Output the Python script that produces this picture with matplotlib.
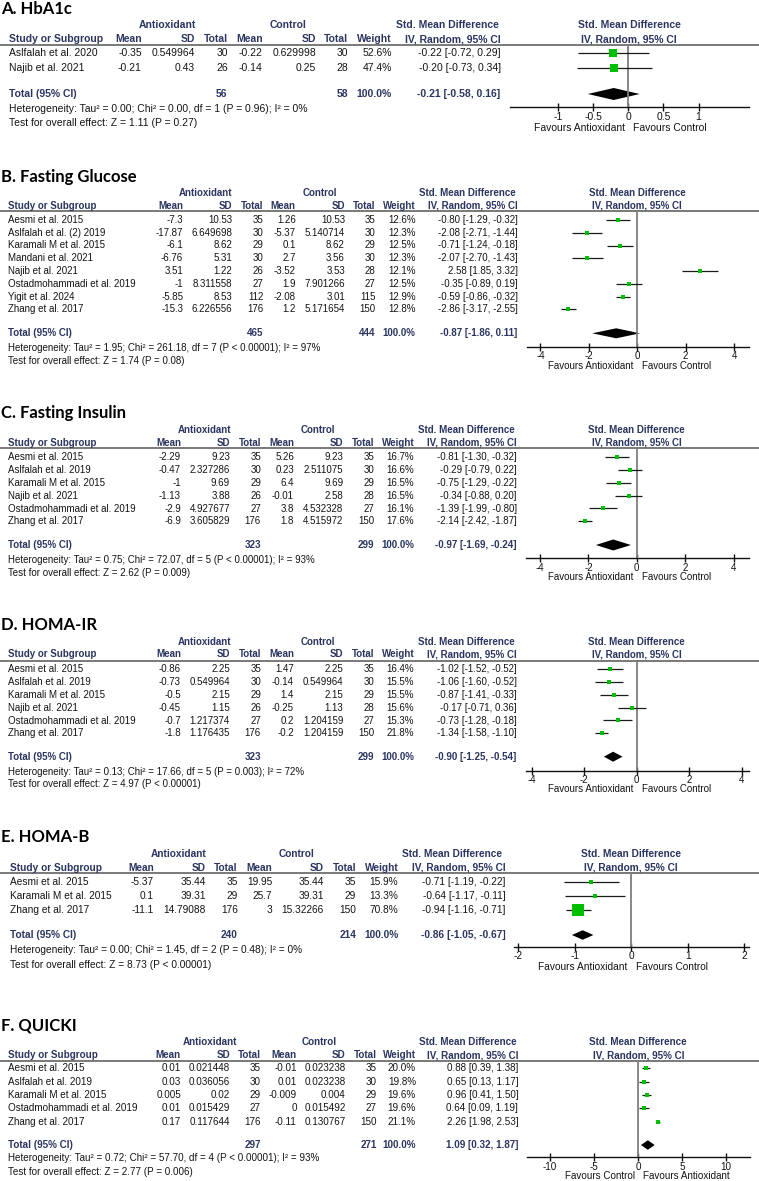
import numpy as np
import matplotlib
matplotlib.use('Agg')
import matplotlib.pyplot as plt
from matplotlib.ticker import FixedLocator, FuncFormatter

plt.rcParams['font.family'] = ['Liberation Sans', 'DejaVu Sans']
plt.rcParams['axes.unicode_minus'] = False

## A. HbA1c
a_study = ['Aslfalah et al. 2020', 'Najib et al. 2021']
a_ant_mean = [-0.35, -0.21]
a_ant_sd = [0.549964, 0.43]
a_ant_n = [30, 26]
a_ctl_mean = [-0.22, -0.14]
a_ctl_sd = [0.629998, 0.25]
a_ctl_n = [30, 28]
a_weight = [52.6, 47.4]
a_smd = [-0.22, -0.20]
a_lo = [-0.72, -0.73]
a_hi = [0.29, 0.34]
a_total = [56, 58, -0.21, -0.58, 0.16]
a_het = 'Heterogeneity: Tau\u00b2 = 0.00; Chi\u00b2 = 0.00, df = 1 (P = 0.96); I\u00b2 = 0%'
a_test = 'Test for overall effect: Z = 1.11 (P = 0.27)'
a_ticks = [-1, -0.5, 0, 0.5, 1]

## B. Fasting Glucose
b_study = ['Aesmi et al. 2015', 'Aslfalah et al. (2) 2019', 'Karamali M et al. 2015',
           'Mandani et al. 2021', 'Najib et al. 2021', 'Ostadmohammadi et al. 2019',
           'Yigit et al. 2024', 'Zhang et al. 2017']
b_ant_mean = [-7.3, -17.87, -6.1, -6.76, 3.51, -1, -5.85, -15.3]
b_ant_sd = [10.53, 6.649698, 8.62, 5.31, 1.22, 8.311558, 8.53, 6.226556]
b_ant_n = [35, 30, 29, 30, 26, 27, 112, 176]
b_ctl_mean = [1.26, -5.37, 0.1, 2.7, -3.52, 1.9, -2.08, 1.2]
b_ctl_sd = [10.53, 5.140714, 8.62, 3.56, 3.53, 7.901266, 3.01, 5.171654]
b_ctl_n = [35, 30, 29, 30, 28, 27, 115, 150]
b_weight = [12.6, 12.3, 12.5, 12.3, 12.1, 12.5, 12.9, 12.8]
b_smd = [-0.80, -2.08, -0.71, -2.07, 2.58, -0.35, -0.59, -2.86]
b_lo = [-1.29, -2.71, -1.24, -2.70, 1.85, -0.89, -0.86, -3.17]
b_hi = [-0.32, -1.44, -0.18, -1.43, 3.32, 0.19, -0.32, -2.55]
b_total = [465, 444, -0.87, -1.86, 0.11]
b_het = 'Heterogeneity: Tau\u00b2 = 1.95; Chi\u00b2 = 261.18, df = 7 (P < 0.00001); I\u00b2 = 97%'
b_test = 'Test for overall effect: Z = 1.74 (P = 0.08)'
b_ticks = [-4, -2, 0, 2, 4]

## C. Fasting Insulin
c_study = ['Aesmi et al. 2015', 'Aslfalah et al. 2019', 'Karamali M et al. 2015',
           'Najib et al. 2021', 'Ostadmohammadi et al. 2019', 'Zhang et al. 2017']
c_ant_mean = [-2.29, -0.47, -1, -1.13, -2.9, -6.9]
c_ant_sd = [9.23, 2.327286, 9.69, 3.88, 4.927677, 3.605829]
c_ant_n = [35, 30, 29, 26, 27, 176]
c_ctl_mean = [5.26, 0.23, 6.4, -0.01, 3.8, 1.8]
c_ctl_sd = [9.23, 2.511075, 9.69, 2.58, 4.532328, 4.515972]
c_ctl_n = [35, 30, 29, 28, 27, 150]
c_weight = [16.7, 16.6, 16.5, 16.5, 16.1, 17.6]
c_smd = [-0.81, -0.29, -0.75, -0.34, -1.39, -2.14]
c_lo = [-1.30, -0.79, -1.29, -0.88, -1.99, -2.42]
c_hi = [-0.32, 0.22, -0.22, 0.20, -0.80, -1.87]
c_total = [323, 299, -0.97, -1.69, -0.24]
c_het = 'Heterogeneity: Tau\u00b2 = 0.75; Chi\u00b2 = 72.07, df = 5 (P < 0.00001); I\u00b2 = 93%'
c_test = 'Test for overall effect: Z = 2.62 (P = 0.009)'
c_ticks = [-4, -2, 0, 2, 4]

## D. HOMA-IR
d_study = ['Aesmi et al. 2015', 'Aslfalah et al. 2019', 'Karamali M et al. 2015',
           'Najib et al. 2021', 'Ostadmohammadi et al. 2019', 'Zhang et al. 2017']
d_ant_mean = [-0.86, -0.73, -0.5, -0.45, -0.7, -1.8]
d_ant_sd = [2.25, 0.549964, 2.15, 1.15, 1.217374, 1.176435]
d_ant_n = [35, 30, 29, 26, 27, 176]
d_ctl_mean = [1.47, -0.14, 1.4, -0.25, 0.2, -0.2]
d_ctl_sd = [2.25, 0.549964, 2.15, 1.13, 1.204159, 1.204159]
d_ctl_n = [35, 30, 29, 28, 27, 150]
d_weight = [16.4, 15.5, 15.5, 15.6, 15.3, 21.8]
d_smd = [-1.02, -1.06, -0.87, -0.17, -0.73, -1.34]
d_lo = [-1.52, -1.60, -1.41, -0.71, -1.28, -1.58]
d_hi = [-0.52, -0.52, -0.33, 0.36, -0.18, -1.10]
d_total = [323, 299, -0.90, -1.25, -0.54]
d_het = 'Heterogeneity: Tau\u00b2 = 0.13; Chi\u00b2 = 17.66, df = 5 (P = 0.003); I\u00b2 = 72%'
d_test = 'Test for overall effect: Z = 4.97 (P < 0.00001)'
d_ticks = [-4, -2, 0, 2, 4]

## E. HOMA-B
e_study = ['Aesmi et al. 2015', 'Karamali M et al. 2015', 'Zhang et al. 2017']
e_ant_mean = [-5.37, 0.1, -11.1]
e_ant_sd = [35.44, 39.31, 14.79088]
e_ant_n = [35, 29, 176]
e_ctl_mean = [19.95, 25.7, 3]
e_ctl_sd = [35.44, 39.31, 15.32266]
e_ctl_n = [35, 29, 150]
e_weight = [15.9, 13.3, 70.8]
e_smd = [-0.71, -0.64, -0.94]
e_lo = [-1.19, -1.17, -1.16]
e_hi = [-0.22, -0.11, -0.71]
e_total = [240, 214, -0.86, -1.05, -0.67]
e_het = 'Heterogeneity: Tau\u00b2 = 0.00; Chi\u00b2 = 1.45, df = 2 (P = 0.48); I\u00b2 = 0%'
e_test = 'Test for overall effect: Z = 8.73 (P < 0.00001)'
e_ticks = [-2, -1, 0, 1, 2]

## F. QUICKI
f_study = ['Aesmi et al. 2015', 'Aslfalah et al. 2019', 'Karamali M et al. 2015',
           'Ostadmohammadi et al. 2019', 'Zhang et al. 2017']
f_ant_mean = [0.01, 0.03, 0.005, 0.01, 0.17]
f_ant_sd = [0.021448, 0.036056, 0.02, 0.015429, 0.117644]
f_ant_n = [35, 30, 29, 27, 176]
f_ctl_mean = [-0.01, 0.01, -0.009, 0, -0.11]
f_ctl_sd = [0.023238, 0.023238, 0.004, 0.015492, 0.130767]
f_ctl_n = [35, 30, 29, 27, 150]
f_weight = [20.0, 19.8, 19.6, 19.6, 21.1]
f_smd = [0.88, 0.65, 0.96, 0.64, 2.26]
f_lo = [0.39, 0.13, 0.41, 0.09, 1.98]
f_hi = [1.38, 1.17, 1.50, 1.19, 2.53]
f_total = [297, 271, 1.09, 0.32, 1.87]
f_het = 'Heterogeneity: Tau\u00b2 = 0.72; Chi\u00b2 = 57.70, df = 4 (P < 0.00001); I\u00b2 = 93%'
f_test = 'Test for overall effect: Z = 2.77 (P = 0.006)'
f_ticks = [-10, -5, 0, 5, 10]

## Collect the panels
panels = [
    dict(title='A. HbA1c', study=a_study, am=a_ant_mean, asd=a_ant_sd, an=a_ant_n, cm=a_ctl_mean,
         csd=a_ctl_sd, cn=a_ctl_n, w=a_weight, smd=a_smd, lo=a_lo, hi=a_hi, tot=a_total,
         het=a_het, test=a_test, ticks=a_ticks, fav=('Favours Antioxidant', 'Favours Control')),
    dict(title='B. Fasting Glucose', study=b_study, am=b_ant_mean, asd=b_ant_sd, an=b_ant_n, cm=b_ctl_mean,
         csd=b_ctl_sd, cn=b_ctl_n, w=b_weight, smd=b_smd, lo=b_lo, hi=b_hi, tot=b_total,
         het=b_het, test=b_test, ticks=b_ticks, fav=('Favours Antioxidant', 'Favours Control')),
    dict(title='C. Fasting Insulin', study=c_study, am=c_ant_mean, asd=c_ant_sd, an=c_ant_n, cm=c_ctl_mean,
         csd=c_ctl_sd, cn=c_ctl_n, w=c_weight, smd=c_smd, lo=c_lo, hi=c_hi, tot=c_total,
         het=c_het, test=c_test, ticks=c_ticks, fav=('Favours Antioxidant', 'Favours Control')),
    dict(title='D. HOMA-IR', study=d_study, am=d_ant_mean, asd=d_ant_sd, an=d_ant_n, cm=d_ctl_mean,
         csd=d_ctl_sd, cn=d_ctl_n, w=d_weight, smd=d_smd, lo=d_lo, hi=d_hi, tot=d_total,
         het=d_het, test=d_test, ticks=d_ticks, fav=('Favours Antioxidant', 'Favours Control')),
    dict(title='E. HOMA-B', study=e_study, am=e_ant_mean, asd=e_ant_sd, an=e_ant_n, cm=e_ctl_mean,
         csd=e_ctl_sd, cn=e_ctl_n, w=e_weight, smd=e_smd, lo=e_lo, hi=e_hi, tot=e_total,
         het=e_het, test=e_test, ticks=e_ticks, fav=('Favours Antioxidant', 'Favours Control')),
    dict(title='F. QUICKI', study=f_study, am=f_ant_mean, asd=f_ant_sd, an=f_ant_n, cm=f_ctl_mean,
         csd=f_ctl_sd, cn=f_ctl_n, w=f_weight, smd=f_smd, lo=f_lo, hi=f_hi, tot=f_total,
         het=f_het, test=f_test, ticks=f_ticks, fav=('Favours Control', 'Favours Antioxidant')),
]

## Pixel layout of each panel (y from the top of the picture)
# cols = study left, then right edges of Mean, SD, Total, Mean, SD, Total, Weight, SMD
layout = [
    dict(title_y=13.5, h1=25, h2=39.3, line=45.3, row0=53.3, step=15, total=94, het=109.3, test=123.3,
         cols=[9.3, 141.7, 195, 227.7, 262.7, 316, 348.3, 391.7, 500.7],
         ant_hdr=167.5, ctl_hdr=288, smd_hdr=447, fp_hdr=629,
         fp_left=510, fp_right=749, xlim=(-1.69, 1.72), axis_y=107.3, fav_y=127.7, fs=7.45, dia_h=12),
    dict(title_y=181.7, h1=193.3, h2=206, line=211, row0=220, step=12.75, total=333.3, het=348.3, test=360.7,
         cols=[8.3, 183.3, 232.3, 263.3, 295.7, 345, 375.7, 415.7, 517.7],
         ant_hdr=205.3, ctl_hdr=319.7, smd_hdr=467.5, fp_hdr=637.3,
         fp_left=526.7, fp_right=749.3, xlim=(-4.57, 4.63), axis_y=346.7, fav_y=366, fs=7.05, dia_h=10),
    dict(title_y=418.3, h1=430, h2=442.7, line=448.3, row0=457.3, step=12.8, total=545, het=560, test=572.7,
         cols=[8.3, 181, 230, 261, 294, 343.3, 374, 414.3, 516.7],
         ant_hdr=204.5, ctl_hdr=318, smd_hdr=466, fp_hdr=636.7,
         fp_left=525.7, fp_right=749.3, xlim=(-4.59, 4.65), axis_y=558.3, fav_y=577.3, fs=7.05, dia_h=11),
    dict(title_y=630, h1=641.7, h2=654.3, line=660.7, row0=669.3, step=12.8, total=756.7, het=772.3, test=784.3,
         cols=[8.3, 181, 230, 261, 294, 343.3, 374, 414.3, 516.7],
         ant_hdr=204.5, ctl_hdr=318, smd_hdr=466, fp_hdr=636.7,
         fp_left=525.7, fp_right=749.3, xlim=(-4.23, 4.29), axis_y=770.7, fav_y=789.3, fs=7.05, dia_h=10),
    dict(title_y=841.7, h1=854, h2=867.7, line=872.7, row0=882.3, step=13.85, total=935, het=950, test=965,
         cols=[10, 154, 205.7, 237.7, 272.3, 324, 356, 398.3, 505.7],
         ant_hdr=179, ctl_hdr=296.7, smd_hdr=452.5, fp_hdr=631,
         fp_left=514.3, fp_right=749.3, xlim=(-2.07, 2.09), axis_y=946.7, fav_y=967.3, fs=7.25, dia_h=9.5),
    dict(title_y=1030.7, h1=1041.7, h2=1055, line=1061, row0=1068.3, step=13.35, total=1145, het=1158.3, test=1171.7,
         cols=[8.3, 181, 230, 261, 296.7, 345.7, 376.7, 416, 518.3],
         ant_hdr=210, ctl_hdr=318.8, smd_hdr=468.3, fp_hdr=638.3,
         fp_left=527.3, fp_right=750, xlim=(-12.6, 12.7), axis_y=1157.3, fav_y=1176, fs=7.1, dia_h=9.5),
]

W, H = 759, 1181
HDR = '#2b3560'
TXT = '#141414'
GREEN = '#00bf00'

fig = plt.figure(figsize=(W / 100, H / 100), dpi=100)
base = fig.add_axes([0, 0, 1, 1])
base.set_xlim(0, W)
base.set_ylim(H, 0)
base.axis('off')

for d, L in zip(panels, layout):
    fs = L['fs']
    c = L['cols']
    bold = dict(fontsize=fs, fontweight='bold', color=HDR, va='center')
    norm = dict(fontsize=fs, color=TXT, va='center')

    ## Title
    base.text(1, L['title_y'], d['title'], fontsize=12, fontweight='bold', family='Lato',
              va='baseline', ha='left', color='black')

    ## Column headers
    base.text(L['ant_hdr'], L['h1'], 'Antioxidant', ha='center', **bold)
    base.text(L['ctl_hdr'], L['h1'], 'Control', ha='center', **bold)
    base.text(L['smd_hdr'], L['h1'], 'Std. Mean Difference', ha='center', **bold)
    base.text(L['fp_hdr'], L['h1'], 'Std. Mean Difference', ha='center', **bold)
    base.text(c[0], L['h2'], 'Study or Subgroup', ha='left', **bold)
    for x, s in zip(c[1:8], ['Mean', 'SD', 'Total', 'Mean', 'SD', 'Total', 'Weight']):
        base.text(x, L['h2'], s, ha='right', **bold)
    base.text(c[8], L['h2'], 'IV, Random, 95% CI', ha='right', **bold)
    base.text(L['fp_hdr'], L['h2'], 'IV, Random, 95% CI', ha='center', **bold)
    base.plot([0, W], [L['line'], L['line']], color='#6e6e6e', lw=1.3, solid_capstyle='butt')

    ## Study rows
    ys = L['row0'] + L['step'] * np.arange(len(d['study']))
    for i, y in enumerate(ys):
        base.text(c[0], y, d['study'][i], ha='left', **norm)
        cells = [str(d['am'][i]), str(d['asd'][i]), str(d['an'][i]),
                 str(d['cm'][i]), str(d['csd'][i]), str(d['cn'][i]),
                 '%.1f%%' % d['w'][i],
                 '%.2f [%.2f, %.2f]' % (d['smd'][i], d['lo'][i], d['hi'][i])]
        for x, s in zip(c[1:], cells):
            base.text(x, y, s, ha='right', **norm)

    ## Total row and footer
    t = d['tot']
    base.text(c[0], L['total'], 'Total (95% CI)', ha='left', **bold)
    base.text(c[3], L['total'], str(t[0]), ha='right', **bold)
    base.text(c[6], L['total'], str(t[1]), ha='right', **bold)
    base.text(c[7], L['total'], '100.0%', ha='right', **bold)
    base.text(c[8], L['total'], '%.2f [%.2f, %.2f]' % (t[2], t[3], t[4]), ha='right', **bold)
    base.text(c[0], L['het'], d['het'], ha='left', **norm)
    base.text(c[0], L['test'], d['test'], ha='left', **norm)

    ## Forest plot
    ax = fig.add_axes([L['fp_left'] / W, 1 - L['axis_y'] / H,
                       (L['fp_right'] - L['fp_left']) / W, (L['axis_y'] - L['line']) / H])
    ax.patch.set_alpha(0)
    ax.set_xlim(L['xlim'])
    ax.set_ylim(L['axis_y'], L['line'])
    for s in ['top', 'left', 'right']:
        ax.spines[s].set_visible(False)
    ax.spines['bottom'].set_linewidth(1.0)
    ax.spines['bottom'].set_color('#111111')
    ax.axvline(0, color='#7f7f7f', lw=1.3)
    ax.hlines(ys, d['lo'], d['hi'], color='#1a1a1a', lw=0.9)
    for i, y in enumerate(ys):
        side = 2.0 + 0.13 * d['w'][i]
        ax.plot(d['smd'][i], y, 's', color=GREEN, ms=side * 0.72, mew=0)
    ty = L['total']
    h = L['dia_h'] / 2
    ax.fill([t[3], t[2], t[4], t[2]], [ty, ty - h, ty, ty + h], color='black', lw=0)
    ax.xaxis.set_major_locator(FixedLocator(d['ticks']))
    ax.xaxis.set_major_formatter(FuncFormatter(lambda v, p: '%g' % v))
    ax.tick_params(axis='x', direction='inout', length=5.5, width=1.0, pad=0.5,
                   labelsize=fs, colors='#111111')
    ax.set_yticks([])

    ## Favours labels
    zx = L['fp_left'] + (0 - L['xlim'][0]) / (L['xlim'][1] - L['xlim'][0]) * (L['fp_right'] - L['fp_left'])
    base.text(zx - 3.5, L['fav_y'], d['fav'][0], ha='right', **norm)
    base.text(zx + 5, L['fav_y'], d['fav'][1], ha='left', **norm)

fig.savefig('out.png', dpi=100)
